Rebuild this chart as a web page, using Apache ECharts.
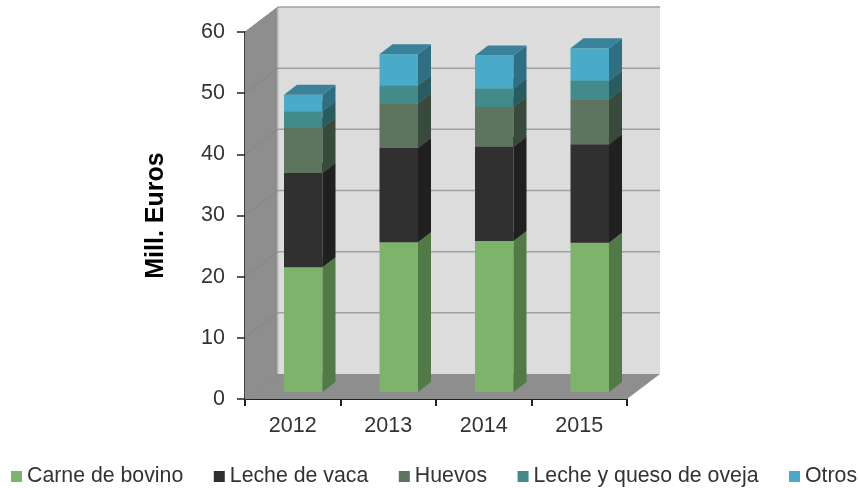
<!DOCTYPE html>
<html>
<head>
<meta charset="utf-8">
<style>
  html, body { margin: 0; padding: 0; background: #fff; }
  #chart { width: 860px; height: 488px; }
</style>
<script src="https://cdn.jsdelivr.net/npm/echarts@6/dist/echarts.min.js"></script>
</head>
<body>
<div id="chart"></div>
<script>
const years = ['2012', '2013', '2014', '2015'];
const carne = [20.4, 24.5, 24.7, 24.4];
const leche = [15.4, 15.4, 15.4, 16.1];
const huevos = [7.4, 7.3, 6.5, 7.3];
const oveja = [2.7, 2.9, 3.0, 3.1];
const otros = [2.7, 5.1, 5.4, 5.3];
const yTicks = [0, 10, 20, 30, 40, 50, 60];

// front, side and top face colours
const layers = [
  { name: 'Carne de bovino', values: carne, front: '#7db36b', side: '#527a46', top: '#6a9a5b' },
  { name: 'Leche de vaca', values: leche, front: '#303030', side: '#202020', top: '#262626' },
  { name: 'Huevos', values: huevos, front: '#5d755f', side: '#384a3b', top: '#4a5e4c' },
  { name: 'Leche y queso de oveja', values: oveja, front: '#438a8a', side: '#285c60', top: '#357070' },
  { name: 'Otros', values: otros, front: '#49abc8', side: '#2f6f84', top: '#398299' }
];

// depth of the box and of the bars, in pixels
const wallDx = 33, wallDy = -25;
const barDx = 13, barDy = -10;
const barShiftX = 10.5, barShiftY = -7;
const barWidth = 38.5;

function poly(points, color) {
  return { type: 'polygon', shape: { points: points }, style: { fill: color } };
}

function line(x1, y1, x2, y2, color, width) {
  return { type: 'line', shape: { x1: x1, y1: y1, x2: x2, y2: y2 }, style: { stroke: color, lineWidth: width } };
}

// side wall, floor, back wall and their grid lines
function renderWalls(params, api) {
  const cs = params.coordSys;
  const x0 = cs.x, x1 = cs.x + cs.width;
  const yTop = cs.y, yBot = cs.y + cs.height;
  const kids = [
    poly([[x0 + wallDx, yTop + wallDy], [x1 + wallDx, yTop + wallDy], [x1 + wallDx, yBot + wallDy], [x0 + wallDx, yBot + wallDy]], '#dcdcdc'),
    poly([[x0, yTop], [x0 + wallDx, yTop + wallDy], [x0 + wallDx, yBot + wallDy], [x0, yBot]], '#8e8e8e'),
    poly([[x0, yBot], [x0 + wallDx, yBot + wallDy], [x1 + wallDx, yBot + wallDy], [x1, yBot]], '#8e8e8e'),
    line(x0 + wallDx, yBot + wallDy, x0 + wallDx, yTop + wallDy, '#c4c4c4', 1.5)
  ];
  yTicks.forEach(function (t) {
    const y = api.coord([0, t])[1];
    if (t > 0) {
      kids.push(line(x0 + wallDx, y + wallDy, x1 + wallDx, y + wallDy, '#a0a0a0', 1.5));
    }
    kids.push(line(x0, y, x0 + wallDx, y + wallDy, '#858585', 1));
  });
  return { type: 'group', children: kids };
}

function renderBar(params, api) {
  const layer = layers[params.seriesIndex - 1];
  const p0 = api.coord([api.value(0), api.value(1)]);
  const p1 = api.coord([api.value(0), api.value(1) + api.value(2)]);
  const xl = p0[0] + barShiftX - barWidth / 2;
  const xr = xl + barWidth;
  const yb = p0[1] + barShiftY;
  const yt = p1[1] + barShiftY;
  return {
    type: 'group',
    children: [
      poly([[xl, yt], [xr, yt], [xr, yb], [xl, yb]], layer.front),
      poly([[xr, yt], [xr + barDx, yt + barDy], [xr + barDx, yb + barDy], [xr, yb]], layer.side),
      poly([[xl, yt], [xl + barDx, yt + barDy], [xr + barDx, yt + barDy], [xr, yt]], layer.top)
    ]
  };
}

const running = years.map(function () { return 0; });
const barSeries = layers.map(function (layer) {
  const rows = layer.values.map(function (v, i) {
    const row = [i, running[i], v];
    running[i] += v;
    return row;
  });
  return {
    type: 'custom',
    name: layer.name,
    renderItem: renderBar,
    data: rows,
    encode: { x: 0, y: [1, 2] },
    itemStyle: { color: layer.front },
    z: 3,
    clip: false
  };
});

const chart = echarts.init(document.getElementById('chart'));

chart.setOption({
  animation: false,
  textStyle: { fontFamily: '"Liberation Sans", Arial, sans-serif' },
  legend: {
    left: 6,
    top: 461,
    width: 900,
    itemWidth: 11,
    itemHeight: 11,
    itemGap: 30.5,
    icon: 'rect',
    padding: [5, 5],
    textStyle: { fontSize: 21.3, color: '#333333', fontFamily: '"Liberation Sans", Arial, sans-serif' },
    data: layers.map(function (l) { return l.name; })
  },
  grid: { left: 245, right: 233, top: 32, bottom: 89 },
  xAxis: {
    type: 'category',
    data: years,
    axisLine: { show: true, lineStyle: { color: '#222222', width: 2 } },
    axisTick: { show: true, length: 7, lineStyle: { color: '#222222', width: 2 } },
    axisLabel: { fontSize: 21.5, color: '#333333', margin: 16 }
  },
  yAxis: {
    type: 'value',
    min: 0,
    max: 60,
    interval: 10,
    name: 'Mill. Euros',
    nameLocation: 'middle',
    nameGap: 76,
    nameTextStyle: { fontSize: 25, fontWeight: 'bold', color: '#000000' },
    splitLine: { show: false },
    axisLine: { show: true, lineStyle: { color: '#444444', width: 2 } },
    axisTick: { show: true, length: 8, lineStyle: { color: '#222222', width: 1.5 } },
    axisLabel: { fontSize: 21.5, color: '#333333', margin: 20, padding: [4, 0, 0, 0] }
  },
  series: [{
    type: 'custom',
    renderItem: renderWalls,
    data: [[0, 0]],
    silent: true,
    z: 1,
    clip: false
  }].concat(barSeries)
});
</script>
</body>
</html>
